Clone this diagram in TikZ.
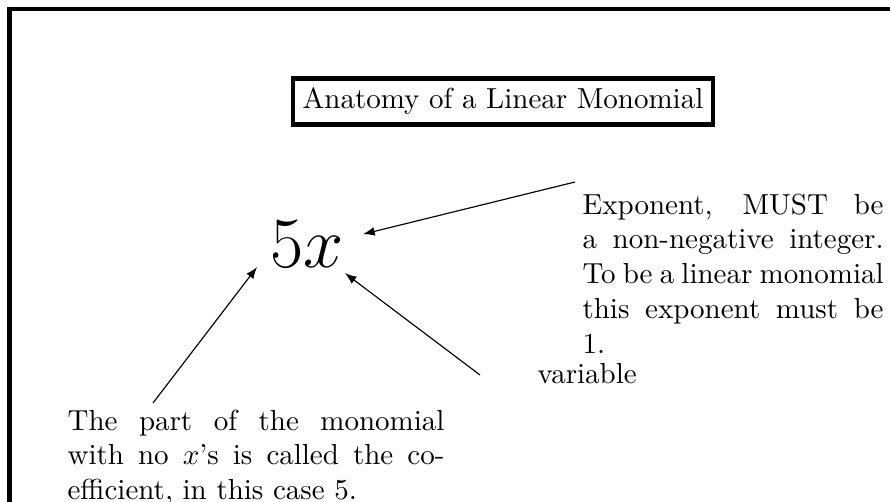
\documentclass[tikz,border=0pt]{standalone}
\usepackage{amsmath}
\usepackage{tikz}
\usetikzlibrary{arrows,positioning}

\begin{document}
\begin{tikzpicture}[
    x=0.345pt, y=-0.345pt,
    frame/.style={draw, line width=1.4pt},
    titlebox/.style={rectangle, draw, line width=1.4pt},
    monomial/.style={font=\Huge, inner sep=3.33pt, outer sep=0pt},
    note/.style={text width=3.65cm, align=justify, inner sep=0pt, anchor=north west},
    arrow/.style={->, >=latex, thin}
]
\useasboundingbox (0,0) rectangle (890,502);
\clip (0,0) rectangle (890,502);

% Outer frame
\draw[frame] (9.5,9.3) rectangle (930,540);

% Title
\node[titlebox] (title) at (503,101.5) {Anatomy of a Linear Monomial};

% The monomial
\node[monomial] (mono) at (307.5,243.8) {$5x$};

% Notes
\node[note] (expo) at (582,193) {Exponent, MUST be a non-negative integer. To be a linear monomial this exponent must be 1.};
\node[anchor=base west, inner sep=0pt] (var) at (537,384) {variable};
\node[note, text width=4.57cm] (coef) at (67,409) {The part of the monomial with no $x$'s is called the co-efficient, in this case 5.};

% Arrow tails
\coordinate (expo tail) at (575,182);
\coordinate (var tail) at (480,375);
\coordinate (coef tail) at (153,403);

% Arrows
\draw[arrow, shorten >=3.3pt] (expo tail) -- (mono.9);
\draw[arrow, shorten >=-2pt] (var tail) -- (mono.322);
\draw[arrow, shorten >=2.4pt] (coef tail) -- (mono.201);

\end{tikzpicture}
\end{document}
